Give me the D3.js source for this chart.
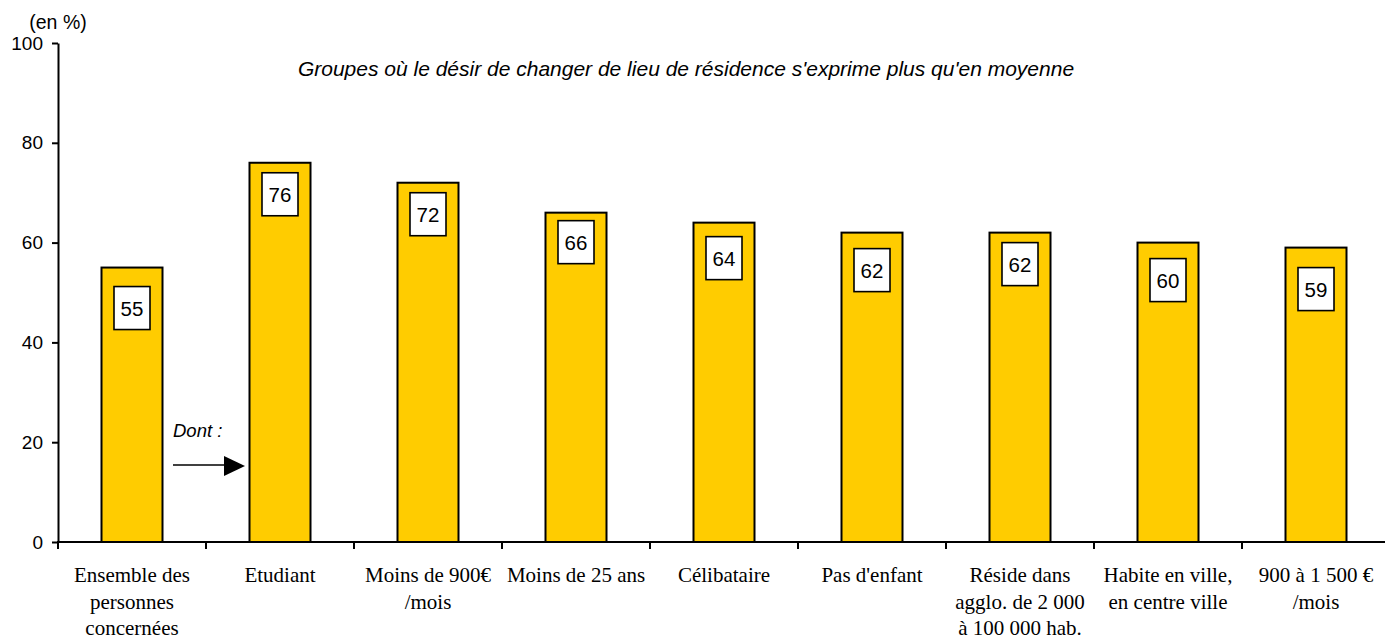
<!DOCTYPE html>
<html>
<head>
<meta charset="utf-8">
<script src="https://cdn.jsdelivr.net/npm/d3@7"></script>
<style>
  body { margin: 0; background: #fff; }
  svg { display: block; }
</style>
</head>
<body>
<div id="chart"></div>
<script>
// données
var categories = [
    "Ensemble des|personnes|concernées",
    "Etudiant",
    "Moins de 900€|/mois",
    "Moins de 25 ans",
    "Célibataire",
    "Pas d'enfant",
    "Réside dans|agglo. de 2 000|à 100 000 hab.",
    "Habite en ville,|en centre ville",
    "900 à 1 500 €|/mois"
];
var values = [55, 76, 72, 66, 64, 62, 62, 60, 59];
var yTicks = [0, 20, 40, 60, 80, 100];
// décalage (px) de l'étiquette sous le haut de la barre
var labelDy = [19, 10, 10, 8, 14, 16, 10, 16, 20];

var W = 1385, H = 639;
var svg = d3.select("#chart").append("svg")
    .attr("width", W).attr("height", H);

var x = d3.scaleBand()
    .domain(categories)
    .range([58, 58 + 148 * categories.length])
    .padding(0);
var y = d3.scaleLinear().domain([0, 100]).range([542, 43]);
var barW = 61;

// barres
svg.append("g").selectAll("rect")
    .data(values)
    .join("rect")
    .attr("x", (d, i) => x(categories[i]) + x.bandwidth() / 2 - barW / 2)
    .attr("y", d => y(d))
    .attr("width", barW)
    .attr("height", d => y(0) - y(d))
    .attr("fill", "#FFCC00")
    .attr("stroke", "#000")
    .attr("stroke-width", 2);

// étiquettes dans des cadres blancs
var lab = svg.append("g").selectAll("g")
    .data(values)
    .join("g")
    .attr("transform", (d, i) => `translate(${x(categories[i]) + x.bandwidth() / 2},${y(d) + labelDy[i]})`);
lab.append("rect")
    .attr("x", -18).attr("y", 0)
    .attr("width", 36).attr("height", 43)
    .attr("fill", "#fff")
    .attr("stroke", "#000")
    .attr("stroke-width", 1.6);
lab.append("text")
    .attr("y", 22)
    .attr("dy", "0.35em")
    .attr("text-anchor", "middle")
    .style("font", "20.5px 'Liberation Sans', Arial, sans-serif")
    .text(d => d);

// axe Y
var yAxis = svg.append("g")
    .attr("transform", "translate(58,0)")
    .call(d3.axisLeft(y).tickValues(yTicks).tickSize(6).tickSizeOuter(0));
yAxis.select(".domain").attr("stroke-width", 2);
yAxis.selectAll(".tick line").attr("stroke-width", 2);
yAxis.selectAll(".tick text")
    .attr("x", -15)
    .style("font", "19px 'Liberation Sans', Arial, sans-serif")
    .attr("fill", "#000");

// axe X
svg.append("line")
    .attr("x1", 57).attr("x2", W)
    .attr("y1", y(0)).attr("y2", y(0))
    .attr("stroke", "#000").attr("stroke-width", 2);
svg.append("g").selectAll("line")
    .data(categories)
    .join("line")
    .attr("x1", d => x(d)).attr("x2", d => x(d))
    .attr("y1", y(0)).attr("y2", y(0) + 7)
    .attr("stroke", "#000").attr("stroke-width", 2);

svg.append("g").selectAll("text")
    .data(categories)
    .join("text")
    .attr("text-anchor", "middle")
    .attr("transform", d => `translate(${x(d) + x.bandwidth() / 2},582)`)
    .style("font", "21px 'Liberation Serif', 'Times New Roman', serif")
    .each(function(d) {
        var t = d3.select(this);
        d.split("|").forEach((line, k) => {
            t.append("tspan").attr("x", 0).attr("y", k * 26.5).text(line);
        });
    });

// textes
svg.append("text")
    .attr("x", 58).attr("y", 29)
    .attr("text-anchor", "middle")
    .style("font", "19.5px 'Liberation Sans', Arial, sans-serif")
    .text("(en %)");

svg.append("text")
    .attr("x", 686).attr("y", 76)
    .attr("text-anchor", "middle")
    .style("font", "italic 21px 'Liberation Sans', Arial, sans-serif")
    .text("Groupes où le désir de changer de lieu de résidence s'exprime plus qu'en moyenne");

svg.append("text")
    .attr("x", 173).attr("y", 437)
    .style("font", "italic 18.5px 'Liberation Sans', Arial, sans-serif")
    .text("Dont :");

// flèche
svg.append("line")
    .attr("x1", 173).attr("x2", 226)
    .attr("y1", 465).attr("y2", 465)
    .attr("stroke", "#000").attr("stroke-width", 1.5);
svg.append("path")
    .attr("d", "M224,456 L245,466 L224,476 Z")
    .attr("fill", "#000");
</script>
</body>
</html>
